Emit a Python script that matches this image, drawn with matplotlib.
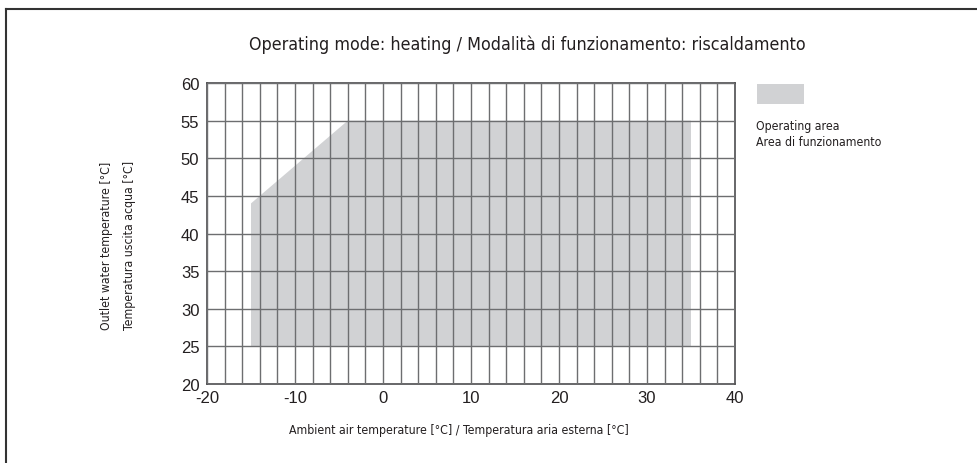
import matplotlib
matplotlib.use("Agg")
import matplotlib.pyplot as plt
import matplotlib.patches as mpatches
import numpy as np

# operating envelope (ambient air temp, outlet water temp)
area_x = [-15, -15, -4, 35, 35]
area_y = [25, 44, 55, 55, 25]

x_ticks = [-20, -10, 0, 10, 20, 30, 40]
y_ticks = [20, 25, 30, 35, 40, 45, 50, 55, 60]

title = "Operating mode: heating / Modalità di funzionamento: riscaldamento"
xlabel = "Ambient air temperature [°C] / Temperatura aria esterna [°C]"
ylabel = "Outlet water temperature [°C]\nTemperatura uscita acqua [°C]"
legend_lines = ["Operating area", "Area di funzionamento"]

grey = "#d1d2d4"
line_col = "#6d6e70"
txt_col = "#231f20"
cond = dict(family="DejaVu Sans", stretch="condensed")

plt.rcParams["axes.unicode_minus"] = False

fig = plt.figure(figsize=(9.78, 4.64), dpi=100)
ax = fig.add_axes([207 / 978, 1 - 385 / 464, 528 / 978, 301 / 464])

ax.fill(area_x, area_y, color=grey, lw=0, zorder=1)

ax.set_xlim(-20, 40)
ax.set_ylim(20, 60)
ax.set_xticks(x_ticks)
ax.set_yticks(y_ticks)
ax.set_xticks(np.arange(-20, 41, 2), minor=True)
ax.grid(True, which="both", axis="x", color=line_col, lw=1, zorder=2)
ax.grid(True, which="major", axis="y", color=line_col, lw=1, zorder=2)
ax.set_axisbelow(False)
ax.tick_params(which="both", length=0, labelsize=12, labelcolor=txt_col)
ax.tick_params(axis="y", pad=5.5)
ax.tick_params(axis="x", pad=4.5)
for lab in ax.get_xticklabels() + ax.get_yticklabels():
    lab.set_family("Liberation Sans")
for s in ax.spines.values():
    s.set_color("#4d4d4f")
    s.set_linewidth(1.2)

fig.text(527 / 978, 1 - 45 / 464, title, ha="center", va="center", fontsize=12.8,
         color=txt_col, **cond)
fig.text(459 / 978, 1 - 431 / 464, xlabel, ha="center", va="center", fontsize=8.8,
         color=txt_col, **cond)
fig.text(118 / 978, 1 - 245 / 464, ylabel, ha="center", va="center", rotation=90,
         multialignment="left", fontsize=8.8, color=txt_col, linespacing=2.05, **cond)

# legend
fig.patches.append(mpatches.Rectangle((757 / 978, 1 - 105 / 464), 47 / 978, 20 / 464,
                                      transform=fig.transFigure, color=grey, lw=0))
fig.text(756 / 978, 1 - 120 / 464, "\n".join(legend_lines), ha="left", va="top",
         fontsize=8.8, color=txt_col, linespacing=1.3, **cond)

# frame (top and left edges only visible)
fig.add_artist(plt.Line2D([6.5 / 978, 1], [1 - 10 / 464, 1 - 10 / 464],
                          transform=fig.transFigure, color="#333333", lw=1.5))
fig.add_artist(plt.Line2D([6.5 / 978, 6.5 / 978], [0, 1 - 10 / 464],
                          transform=fig.transFigure, color="#333333", lw=1.5))

fig.savefig("out.png", dpi=100)
